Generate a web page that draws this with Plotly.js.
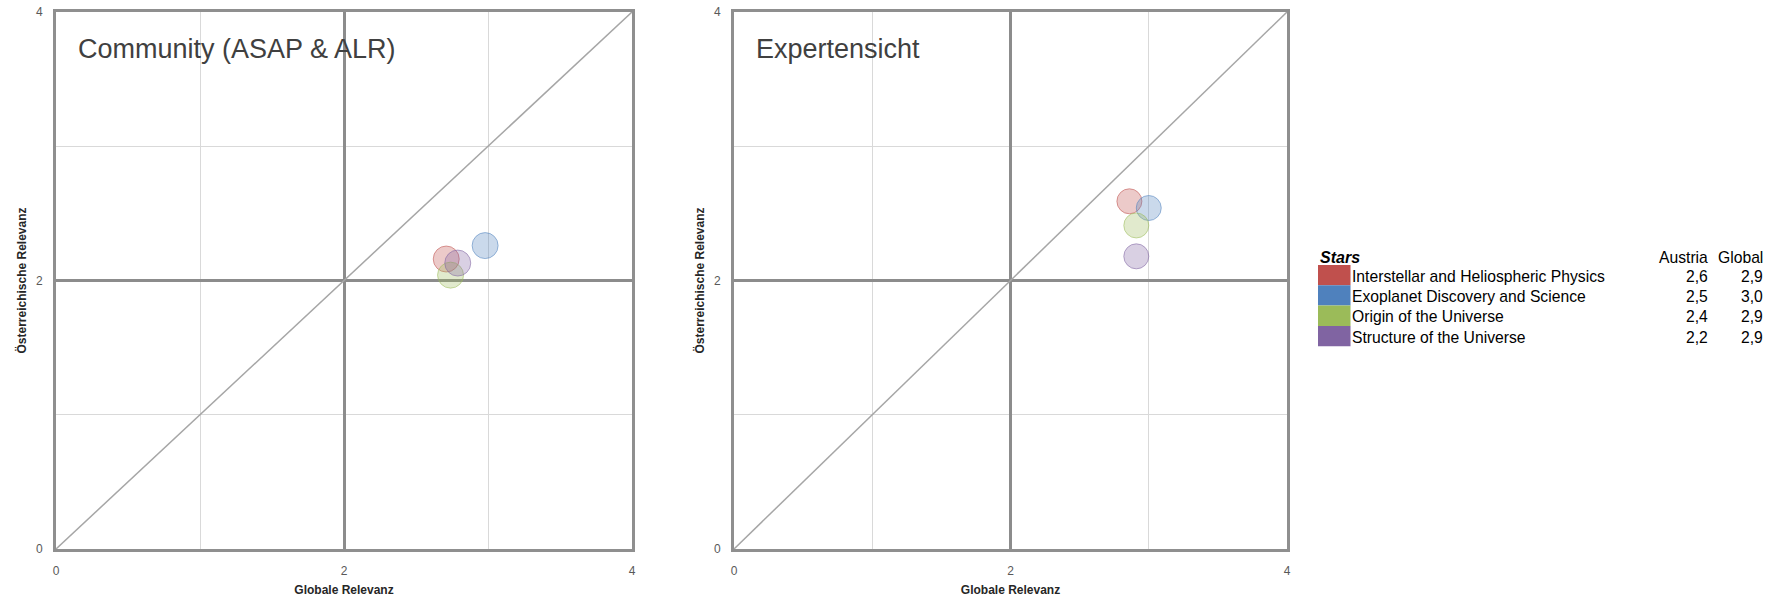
<!DOCTYPE html>
<html><head><meta charset="utf-8">
<script src="https://cdn.plot.ly/plotly-3.0.1.min.js"></script>
<style>html,body{margin:0;padding:0;background:#fff}#chart{width:1778px;height:599px}</style>
</head><body><div id="chart"></div>
<script>
// ---- data ----
const topics = ["Interstellar and Heliospheric Physics", "Exoplanet Discovery and Science", "Origin of the Universe", "Structure of the Universe"];
const topicColors = ["#C0504D", "#4F81BD", "#9BBB59", "#8064A2"];
const communityGlobal  = [2.71, 2.98, 2.74, 2.79];
const communityAustria = [2.16, 2.26, 2.04, 2.13];
const expertGlobal  = [2.86, 3.00, 2.91, 2.91];
const expertAustria = [2.59, 2.54, 2.41, 2.18];
const tableAustria = ["2,6", "2,5", "2,4", "2,2"];
const tableGlobal  = ["2,9", "3,0", "2,9", "2,9"];
const panelTitles = ["Community (ASAP & ALR)", "Expertensicht"];
const diagonal = [0, 4];
const tickVals = [0, 2, 4];
const xTitle = "Globale Relevanz";
const yTitle = "Österreichische Relevanz";
const legendTitle = "Stars";
const colHeaders = ["Austria", "Global"];

// ---- helpers ----
function rgba(hex, a) {
  const n = parseInt(hex.slice(1), 16);
  return `rgba(${(n >> 16) & 255},${(n >> 8) & 255},${n & 255},${a})`;
}
const W = 1778, H = 599;
const M = {l: 56, r: W - 1287, t: 12, b: 50};
const PW = W - M.l - M.r, PH = H - M.t - M.b;
const px = v => (v - M.l) / PW;
const py = v => (H - M.b - v) / PH;
const FONT = "Liberation Sans, Arial, sans-serif";

function bubbles(xs, ys, xa, ya, size) {
  return {
    type: "scatter", mode: "markers", x: xs, y: ys, xaxis: xa, yaxis: ya,
    text: topics, hoverinfo: "text+x+y", showlegend: false,
    marker: {
      size: size,
      color: topicColors.map(c => rgba(c, 0.3)),
      line: {color: topicColors.map(c => rgba(c, 0.55)), width: 1}
    }
  };
}
function diag(xa, ya) {
  return {type: "scatter", mode: "lines", x: diagonal, y: diagonal, xaxis: xa, yaxis: ya,
    line: {color: "#a6a6a6", width: 1.5}, hoverinfo: "skip", showlegend: false};
}

const data = [
  diag("x", "y"), bubbles(communityGlobal, communityAustria, "x", "y", 26),
  diag("x2", "y2"), bubbles(expertGlobal, expertAustria, "x2", "y2", 25)
];

function axis(extra, isX) {
  return Object.assign({
    range: [0, 4], tickmode: "array", tickvals: tickVals,
    showgrid: true, gridcolor: "#8c8c8c", gridwidth: 2.5,
    minor: {dtick: 1, tick0: 0, showgrid: true, gridcolor: "#d9d9d9", gridwidth: 1, ticks: ""},
    showline: true, linecolor: "#8f8f8f", linewidth: 3, mirror: true, zeroline: false,
    ticks: "outside", ticklen: isX ? 9 : 8, tickcolor: "rgba(0,0,0,0)",
    tickfont: {family: FONT, size: 12, color: "#595959"},
    fixedrange: true,
    title: {text: "<b>" + (isX ? xTitle : yTitle) + "</b>", font: {family: FONT, size: 12, color: "#262626"}, standoff: isX ? 9 : 7}
  }, extra);
}

const annotations = [];
const shapes = [];
// panel titles
annotations.push({xref: "x domain", yref: "y domain", x: 20 / 576, y: 1 - 37 / PH, xanchor: "left", yanchor: "middle",
  text: panelTitles[0], showarrow: false, font: {family: FONT, size: 27, color: "#404040"}});
annotations.push({xref: "x2 domain", yref: "y2 domain", x: 20 / 553, y: 1 - 37 / PH, xanchor: "left", yanchor: "middle",
  text: panelTitles[1], showarrow: false, font: {family: FONT, size: 27, color: "#404040"}});

// legend table
const rowTop = 265, rowH = 20.3;
const headY = 257;
annotations.push({xref: "paper", yref: "paper", x: px(1318), y: py(headY), xanchor: "left", yanchor: "middle",
  text: "<b><i>" + legendTitle + "</i></b>", showarrow: false, font: {family: FONT, size: 16, color: "#000"}});
annotations.push({xref: "paper", yref: "paper", x: px(1710), y: py(headY), xanchor: "right", yanchor: "middle",
  text: colHeaders[0], showarrow: false, font: {family: FONT, size: 15.7, color: "#000"}});
annotations.push({xref: "paper", yref: "paper", x: px(1765), y: py(headY), xanchor: "right", yanchor: "middle",
  text: colHeaders[1], showarrow: false, font: {family: FONT, size: 15.7, color: "#000"}});
topics.forEach((t, i) => {
  const y0 = rowTop + rowH * i, y1 = y0 + rowH, yc = (y0 + y1) / 2 + 1;
  shapes.push({type: "rect", xref: "paper", yref: "paper", x0: px(1318), x1: px(1350.5), y0: py(y0), y1: py(y1),
    fillcolor: topicColors[i], line: {width: 0}, layer: "above"});
  annotations.push({xref: "paper", yref: "paper", x: px(1350), y: py(yc), xanchor: "left", yanchor: "middle",
    text: t, showarrow: false, font: {family: FONT, size: 15.7, color: "#000"}});
  annotations.push({xref: "paper", yref: "paper", x: px(1710), y: py(yc), xanchor: "right", yanchor: "middle",
    text: tableAustria[i], showarrow: false, font: {family: FONT, size: 15.7, color: "#000"}});
  annotations.push({xref: "paper", yref: "paper", x: px(1765), y: py(yc), xanchor: "right", yanchor: "middle",
    text: tableGlobal[i], showarrow: false, font: {family: FONT, size: 15.7, color: "#000"}});
});

const layout = {
  width: W, height: H, margin: M, paper_bgcolor: "#fff", plot_bgcolor: "#fff",
  showlegend: false,
  xaxis: axis({domain: [0, 576 / PW], anchor: "y"}, true),
  yaxis: axis({domain: [0, 1], anchor: "x"}, false),
  xaxis2: axis({domain: [(734 - 56) / PW, 1], anchor: "y2"}, true),
  yaxis2: axis({domain: [0, 1], anchor: "x2"}, false),
  annotations: annotations, shapes: shapes
};
Plotly.newPlot("chart", data, layout, {displayModeBar: false});
</script></body></html>
